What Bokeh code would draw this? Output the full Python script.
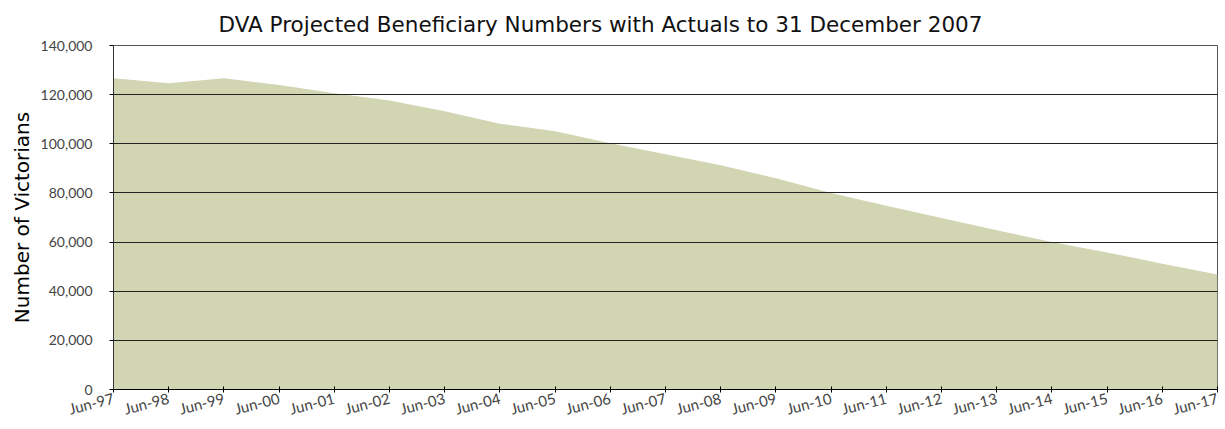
from bokeh.plotting import figure
from bokeh.models import FixedTicker, NumeralTickFormatter, Range1d
from bokeh.embed import file_html
from bokeh.resources import INLINE

months = ["Jun-97", "Jun-98", "Jun-99", "Jun-00", "Jun-01", "Jun-02", "Jun-03",
          "Jun-04", "Jun-05", "Jun-06", "Jun-07", "Jun-08", "Jun-09", "Jun-10",
          "Jun-11", "Jun-12", "Jun-13", "Jun-14", "Jun-15", "Jun-16", "Jun-17"]
beneficiaries = [126700, 124600, 126700, 123900, 120600, 117600, 113200,
                 108200, 105100, 100200, 95700, 91300, 86000, 80000,
                 74800, 69800, 64800, 60000, 55800, 51200, 46800]
y_ticks = [0, 20000, 40000, 60000, 80000, 100000, 120000, 140000]

idx = list(range(len(months)))
FONT = "Lato"
WIDE = "DejaVu Sans"

p = figure(width=1225, height=429, output_backend="svg", toolbar_location=None,
           x_range=Range1d(0, len(months) - 1), y_range=Range1d(0, 140000),
           min_border_left=113, min_border_right=8, min_border_top=45,
           min_border_bottom=36)

p.title.text = "DVA Projected Beneficiary Numbers with Actuals to 31 December 2007"
p.title.align = "left"
p.title.offset = 105
p.title.text_font = WIDE
p.title.text_font_size = "21.5px"
p.title.text_font_style = "normal"
p.title.text_color = "#111111"
p.title.standoff = 18

p.varea(x=idx, y1=0, y2=beneficiaries, fill_color="#D1D5B2", fill_alpha=1.0)

p.xaxis.ticker = FixedTicker(ticks=idx)
p.xaxis.major_label_overrides = {i: m for i, m in zip(idx, months)}
p.xaxis.major_label_orientation = 0.25
p.xaxis.major_tick_in = 3
p.xaxis.major_tick_out = 3
p.xaxis.minor_tick_line_color = None
p.xaxis.axis_line_color = "#000000"
p.xaxis.major_tick_line_color = "#000000"
p.xaxis.major_label_text_font = FONT
p.xaxis.major_label_text_font_size = "15px"
p.xaxis.major_label_text_color = "#444444"
p.xaxis.major_label_standoff = 5

p.yaxis.ticker = FixedTicker(ticks=y_ticks)
p.yaxis.formatter = NumeralTickFormatter(format="0,0")
p.yaxis.major_tick_in = 0
p.yaxis.major_tick_out = 4
p.yaxis.minor_tick_line_color = None
p.yaxis.axis_line_color = "#333333"
p.yaxis.major_tick_line_color = "#000000"
p.yaxis.major_label_text_font = FONT
p.yaxis.major_label_text_font_size = "14px"
p.yaxis.major_label_text_color = "#444444"
p.yaxis.major_label_standoff = 17
p.yaxis.axis_label = "Number of Victorians"
p.yaxis.axis_label_text_font = WIDE
p.yaxis.axis_label_text_font_size = "20px"
p.yaxis.axis_label_text_font_style = "normal"
p.yaxis.axis_label_text_color = "#000000"
p.yaxis.axis_label_standoff = 4

p.xgrid.grid_line_color = None
p.ygrid.grid_line_color = "#222222"
p.ygrid.grid_line_width = 1
p.ygrid.level = "overlay"

p.outline_line_color = "#555555"
p.outline_line_width = 1
p.background_fill_color = "white"
p.border_fill_color = "white"

open("out.html", "w").write(file_html(p, INLINE))
